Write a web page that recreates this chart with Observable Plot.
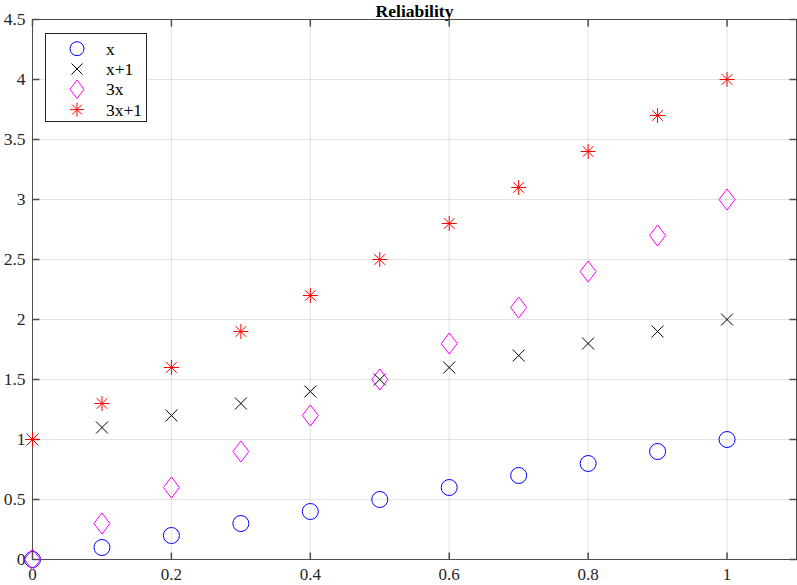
<!DOCTYPE html>
<html>
<head>
<meta charset="utf-8">
<script src="https://cdn.jsdelivr.net/npm/d3@7"></script>
<script src="https://cdn.jsdelivr.net/npm/@observablehq/plot@0.6"></script>
<style>
  html, body { margin: 0; padding: 0; background: #fff; }
  #chart svg { display: block; }
</style>
</head>
<body>
<div id="chart"></div>
<script>
// ---- data ----
const titleText = "Reliability";
const xValues = [0, 0.1, 0.2, 0.3, 0.4, 0.5, 0.6, 0.7, 0.8, 0.9, 1];
const seriesX = [0, 0.1, 0.2, 0.3, 0.4, 0.5, 0.6, 0.7, 0.8, 0.9, 1];
const seriesXPlus1 = [1, 1.1, 1.2, 1.3, 1.4, 1.5, 1.6, 1.7, 1.8, 1.9, 2];
const series3X = [0, 0.3, 0.6, 0.9, 1.2, 1.5, 1.8, 2.1, 2.4, 2.7, 3];
const series3XPlus1 = [1, 1.3, 1.6, 1.9, 2.2, 2.5, 2.8, 3.1, 3.4, 3.7, 4];
const seriesNames = ["x", "x+1", "3x", "3x+1"];
const xTicks = [0, 0.2, 0.4, 0.6, 0.8, 1];
const yTicks = [0, 0.5, 1, 1.5, 2, 2.5, 3, 3.5, 4, 4.5];

// ---- symbols ----
const rad = size => Math.sqrt(size / Math.PI);
const symCircle = {draw(c, size) { const r = rad(size); c.moveTo(r, 0); c.arc(0, 0, r, 0, 2 * Math.PI); }};
const symTimes = {draw(c, size) { const s = rad(size); c.moveTo(-s, -s); c.lineTo(s, s); c.moveTo(s, -s); c.lineTo(-s, s); }};
const symDiamond = {draw(c, size) { const w = rad(size), h = w * 1.32; c.moveTo(0, -h); c.lineTo(w, 0); c.lineTo(0, h); c.lineTo(-w, 0); c.closePath(); }};
const symAsterisk = {draw(c, size) { const s = rad(size), d = s * Math.SQRT1_2;
  c.moveTo(-s, 0); c.lineTo(s, 0); c.moveTo(0, -s); c.lineTo(0, s);
  c.moveTo(-d, -d); c.lineTo(d, d); c.moveTo(d, -d); c.lineTo(-d, d); }};
const tickUp = {draw(c, size) { const s = rad(size); c.moveTo(0, 0); c.lineTo(0, -s); }};
const tickDown = {draw(c, size) { const s = rad(size); c.moveTo(0, 0); c.lineTo(0, s); }};
const tickRight = {draw(c, size) { const s = rad(size); c.moveTo(0, 0); c.lineTo(s, 0); }};
const tickLeft = {draw(c, size) { const s = rad(size); c.moveTo(0, 0); c.lineTo(-s, 0); }};

const styles = [
  {sym: symCircle, color: "#0000ff", r: 8, lr: 7},
  {sym: symTimes, color: "#000000", r: 6, lr: 5.5},
  {sym: symDiamond, color: "#ff00ff", r: 8, lr: 7},
  {sym: symAsterisk, color: "#ff0000", r: 7.5, lr: 7}
];
const allSeries = [seriesX, seriesXPlus1, series3X, series3XPlus1];
const tables = allSeries.map(vals => xValues.map((x, i) => ({x, y: vals[i]})));

const axisColor = "#4d4d4d";
const fontFamily = "'Liberation Serif', 'Times New Roman', serif";

const marks = [
  Plot.gridX(xTicks, {stroke: "#262626", strokeOpacity: 0.13}),
  Plot.gridY(yTicks, {stroke: "#262626", strokeOpacity: 0.13}),
  Plot.frame({stroke: axisColor}),
  Plot.dot(xTicks, {x: d => d, frameAnchor: "bottom", symbol: tickUp, r: 7, stroke: axisColor, fill: "none"}),
  Plot.dot(xTicks, {x: d => d, frameAnchor: "top", symbol: tickDown, r: 7, stroke: axisColor, fill: "none"}),
  Plot.dot(yTicks, {y: d => d, frameAnchor: "left", symbol: tickRight, r: 7, stroke: axisColor, fill: "none"}),
  Plot.dot(yTicks, {y: d => d, frameAnchor: "right", symbol: tickLeft, r: 7, stroke: axisColor, fill: "none"}),
  Plot.axisX(xTicks, {tickSize: 0, tickPadding: 8, tickFormat: d => String(d), fontSize: 17, fill: "#262626"}),
  Plot.axisY(yTicks, {tickSize: 0, tickPadding: 7, tickFormat: d => String(d), fontSize: 17.5, fill: "#262626"}),
  ...tables.map((t, i) => Plot.dot(t, {x: "x", y: "y", symbol: styles[i].sym, r: styles[i].r, stroke: styles[i].color, fill: "none", strokeWidth: 1})),
  Plot.text([titleText], {frameAnchor: "top", dy: -3, lineAnchor: "bottom", fontWeight: "bold", fontSize: 17.5, fill: "#000"})
];

const svg = Plot.plot({
  width: 797,
  height: 585,
  marginLeft: 32,
  marginRight: 1,
  marginTop: 19,
  marginBottom: 26,
  x: {domain: [0, 1.1], label: null},
  y: {domain: [0, 4.5], label: null},
  style: {fontFamily, fontSize: "16px", background: "#fff", color: "#262626"},
  marks
});

// ---- legend (inside plot, top-left) ----
const g = d3.select(svg).append("g")
  .attr("font-family", fontFamily).attr("font-size", 17.5).attr("text-anchor", "start");
const lx = 45.5, ly = 33.5, lw = 101, lh = 88, rowH = 20.3, row0 = 48.7;
g.append("rect").attr("x", lx).attr("y", ly).attr("width", lw).attr("height", lh)
  .attr("fill", "#fff").attr("stroke", "#262626").attr("stroke-width", 1);
seriesNames.forEach((name, i) => {
  const cy = row0 + i * rowH;
  g.append("path").attr("transform", `translate(77,${cy})`)
    .attr("d", d3.symbol(styles[i].sym, Math.PI * styles[i].lr * styles[i].lr)())
    .attr("fill", "none").attr("stroke", styles[i].color);
  g.append("text").attr("x", 106).attr("y", cy).attr("dy", "0.35em")
    .attr("text-anchor", "start").attr("fill", "#000").text(name);
});

document.getElementById("chart").appendChild(svg);
</script>
</body>
</html>
